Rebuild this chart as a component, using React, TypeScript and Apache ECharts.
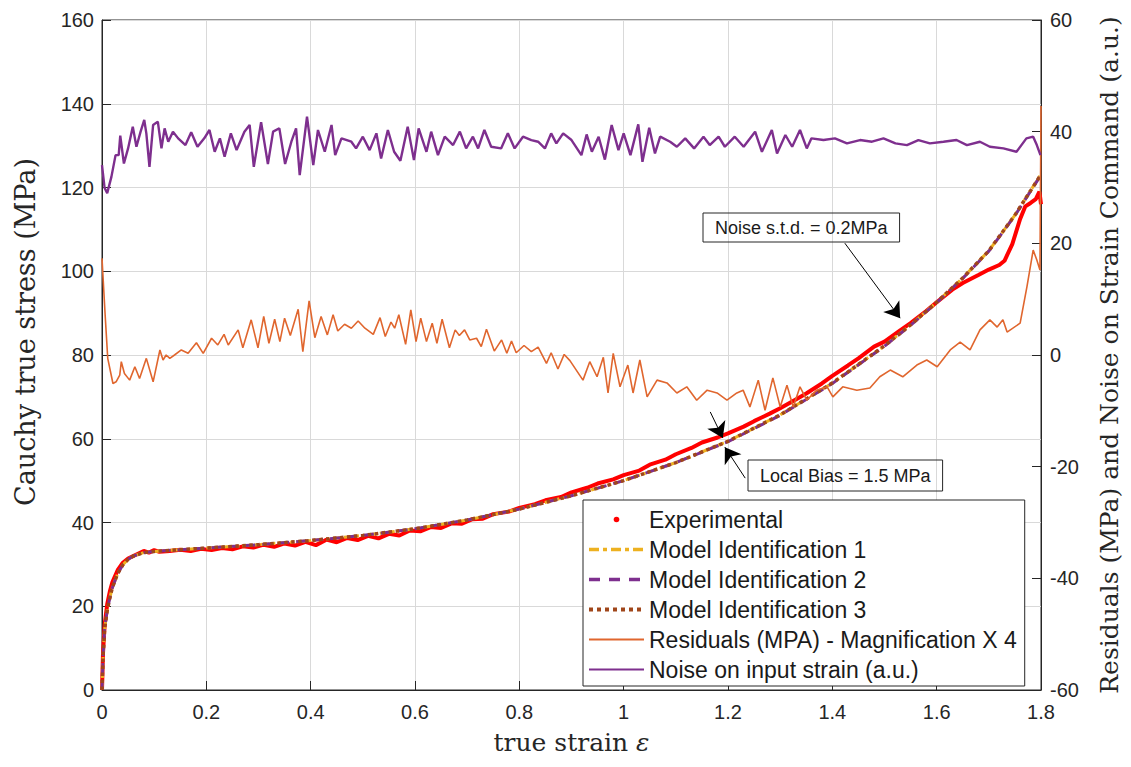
import React, { useEffect, useRef } from "react";
import * as echarts from "echarts";

// ---------- data ----------
const xTicks = [0, 0.2, 0.4, 0.6, 0.8, 1, 1.2, 1.4, 1.6, 1.8];

const modelStrain = [0, 0.002, 0.005, 0.01, 0.015, 0.02, 0.03, 0.04, 0.05, 0.06, 0.08, 0.1, 0.15, 0.2, 0.3, 0.4, 0.5, 0.6, 0.7, 0.8, 0.9, 1.0, 1.1, 1.2, 1.3, 1.4, 1.5, 1.55, 1.6, 1.65, 1.7, 1.75, 1.8];
const model1Stress = [0, 8, 14.5, 19, 22, 24.5, 27.8, 29.9, 31.2, 32, 32.8, 33.1, 33.5, 33.9, 34.7, 35.7, 36.9, 38.5, 40.6, 43.2, 46.4, 50, 54.3, 59.4, 65.7, 73.3, 82.2, 87.2, 92.6, 98.4, 104.9, 113.4, 123.2];
const model2Stress = [0, 8, 14.5, 19, 22, 24.5, 27.8, 29.9, 31.2, 32, 32.8, 33.1, 33.5, 33.9, 34.7, 35.7, 36.9, 38.5, 40.6, 43.2, 46.4, 50, 54.3, 59.3, 65.6, 73.2, 82.1, 87.1, 92.5, 98.3, 104.8, 113.3, 123];
const model3Stress = [0, 8, 14.5, 19, 22, 24.5, 27.8, 29.9, 31.2, 32, 32.8, 33.1, 33.5, 33.9, 34.7, 35.7, 36.9, 38.5, 40.6, 43.2, 46.4, 50, 54.3, 59.4, 65.7, 73.3, 82.2, 87.2, 92.6, 98.4, 104.9, 113.4, 123.1];

const expStrain = [0, 0.002, 0.005, 0.01, 0.015, 0.02, 0.03, 0.04, 0.05, 0.06, 0.07, 0.08, 0.09, 0.1, 0.11, 0.13, 0.15, 0.17, 0.19, 0.21, 0.23, 0.25, 0.27, 0.29, 0.31, 0.33, 0.35, 0.37, 0.39, 0.41, 0.43, 0.45, 0.47, 0.49, 0.51, 0.53, 0.55, 0.57, 0.59, 0.61, 0.63, 0.65, 0.67, 0.69, 0.71, 0.73, 0.75, 0.78, 0.8, 0.83, 0.85, 0.88, 0.9, 0.93, 0.95, 0.98, 1.0, 1.03, 1.05, 1.08, 1.1, 1.13, 1.15, 1.18, 1.2, 1.23, 1.25, 1.28, 1.3, 1.33, 1.35, 1.38, 1.4, 1.43, 1.45, 1.48, 1.5, 1.53, 1.55, 1.58, 1.6, 1.63, 1.65, 1.68, 1.7, 1.72, 1.73, 1.745, 1.76, 1.77, 1.78, 1.79, 1.797, 1.8];
const expStress = [0, 9, 15.5, 20.5, 23.5, 25.8, 28.6, 30.4, 31.4, 32, 32.6, 33.2, 32.8, 33.4, 33, 33.2, 33.5, 33.2, 33.7, 33.4, 33.9, 33.6, 34.3, 34, 34.7, 34.2, 35, 34.5, 35.4, 34.6, 35.9, 35.3, 36.3, 35.8, 36.8, 36.2, 37.3, 36.9, 38.1, 37.9, 38.9, 38.7, 39.8, 39.7, 40.8, 40.9, 42, 42.6, 43.5, 44.4, 45.3, 46.1, 47.2, 48.3, 49.3, 50.3, 51.3, 52.4, 53.8, 55, 56.3, 57.8, 59.1, 60.3, 61.3, 62.9, 64.2, 66, 67.3, 69.4, 70.8, 73.2, 75, 77.5, 79.2, 82, 83.2, 85.9, 87.6, 90.5, 92.6, 95.6, 97.2, 99.1, 100.4, 101.5, 102.5, 106.5, 112.5, 115.5, 116.3, 117.2, 119, 116];

const residualStrain = [0, 0.006, 0.011, 0.021, 0.027, 0.034, 0.037, 0.043, 0.053, 0.063, 0.072, 0.085, 0.098, 0.111, 0.117, 0.123, 0.13, 0.139, 0.152, 0.165, 0.181, 0.194, 0.21, 0.222, 0.234, 0.242, 0.261, 0.27, 0.286, 0.299, 0.31, 0.32, 0.331, 0.341, 0.35, 0.361, 0.376, 0.385, 0.397, 0.408, 0.42, 0.432, 0.443, 0.452, 0.465, 0.478, 0.491, 0.504, 0.52, 0.533, 0.543, 0.554, 0.561, 0.569, 0.582, 0.592, 0.602, 0.611, 0.622, 0.633, 0.642, 0.652, 0.666, 0.677, 0.685, 0.695, 0.705, 0.718, 0.727, 0.737, 0.752, 0.766, 0.776, 0.785, 0.794, 0.809, 0.823, 0.836, 0.852, 0.861, 0.874, 0.886, 0.897, 0.922, 0.935, 0.949, 0.961, 0.97, 0.98, 0.993, 1.008, 1.018, 1.031, 1.045, 1.064, 1.083, 1.102, 1.121, 1.14, 1.16, 1.179, 1.198, 1.217, 1.229, 1.242, 1.258, 1.271, 1.286, 1.3, 1.313, 1.325, 1.338, 1.351, 1.37, 1.39, 1.401, 1.42, 1.447, 1.472, 1.491, 1.511, 1.535, 1.562, 1.581, 1.601, 1.626, 1.645, 1.664, 1.683, 1.702, 1.716, 1.727, 1.735, 1.76, 1.773, 1.785, 1.792, 1.798, 1.8];
const residualValue = [17.3, 7.2, -0.6, -5.1, -4.8, -3.6, -1.2, -3.3, -4.5, -2.1, -4.2, -0.6, -4.8, 0.9, -0.9, 0, -0.6, 0, 0.9, 0.3, 2.2, 0.3, 3, 1.8, 3.7, 1.8, 4.5, 1.3, 6.3, 1.3, 6.9, 2.1, 6.4, 2.4, 6.6, 3.5, 8.2, 0.6, 9.7, 3.1, 6.9, 3.6, 7.2, 4.3, 5.5, 4.8, 6.1, 4.8, 3.7, 6.7, 3.3, 5.9, 4.8, 7.2, 1.9, 8.1, 2.4, 6.6, 2.4, 5.7, 2.1, 6.4, 1.3, 4.5, 3.5, 4.5, 2.7, 3, 1.5, 4.6, 0.7, 2.7, 0.3, 2.5, 0.4, 1.7, 0.6, 1.4, -1.5, 0.4, -2.5, 0.1, -1, -4.5, -1.2, -3.9, -0.4, -6.8, 0.3, -5.7, -1.8, -6.8, -0.9, -7.5, -4.5, -5, -6.8, -5.7, -8.1, -6.3, -6.8, -8.1, -6.8, -6.3, -9.3, -4.5, -9.9, -4.1, -9.3, -5.4, -9.3, -5.7, -8.1, -6.3, -5.7, -7.5, -5.7, -6.3, -5.9, -3.9, -2.7, -3.9, -1.8, -0.9, -2.1, 0.9, 2.3, 0.9, 4.5, 6.3, 5, 6.3, 4.1, 5.7, 12.2, 18.8, 17, 15.2, 44.6];

const noiseStrain = [0, 0.005, 0.01, 0.018, 0.026, 0.032, 0.035, 0.042, 0.05, 0.059, 0.066, 0.074, 0.081, 0.085, 0.091, 0.098, 0.107, 0.114, 0.12, 0.127, 0.136, 0.146, 0.16, 0.171, 0.183, 0.196, 0.206, 0.216, 0.226, 0.235, 0.247, 0.258, 0.273, 0.283, 0.291, 0.305, 0.318, 0.328, 0.34, 0.351, 0.363, 0.372, 0.379, 0.393, 0.405, 0.414, 0.427, 0.44, 0.447, 0.459, 0.478, 0.487, 0.5, 0.513, 0.526, 0.535, 0.548, 0.56, 0.572, 0.586, 0.598, 0.607, 0.622, 0.631, 0.644, 0.657, 0.673, 0.686, 0.698, 0.711, 0.721, 0.733, 0.746, 0.765, 0.778, 0.791, 0.807, 0.823, 0.836, 0.849, 0.861, 0.871, 0.884, 0.9, 0.919, 0.929, 0.939, 0.952, 0.964, 0.977, 0.99, 1.0, 1.013, 1.028, 1.036, 1.049, 1.06, 1.07, 1.089, 1.102, 1.118, 1.135, 1.153, 1.165, 1.182, 1.194, 1.213, 1.23, 1.252, 1.265, 1.284, 1.294, 1.31, 1.323, 1.338, 1.351, 1.36, 1.383, 1.405, 1.428, 1.453, 1.476, 1.498, 1.521, 1.543, 1.565, 1.587, 1.613, 1.638, 1.658, 1.683, 1.702, 1.728, 1.753, 1.772, 1.785, 1.792, 1.799];
const noiseValue = [34, 29.9, 29, 31.9, 35.8, 35.8, 39.3, 34.3, 37, 40.9, 37.3, 40, 42.1, 39.7, 33.7, 41.2, 41.8, 37, 40.6, 38.2, 40, 38.8, 37.6, 39.9, 37.3, 38.8, 40.3, 36.4, 38.8, 35.5, 39.7, 36.7, 40, 41.2, 33.7, 41.7, 34.2, 40, 40.6, 34.2, 38.2, 40.6, 32.2, 42.7, 34, 40.3, 36.4, 41.2, 35.8, 38.8, 38.2, 37, 39.1, 36.7, 39.7, 35.2, 40.3, 36.4, 34.8, 40.9, 34.9, 40.6, 36.4, 40, 35.8, 39.1, 37.6, 40, 37, 39.1, 37, 40.3, 37.3, 37, 39.7, 37, 39.1, 38.5, 38.2, 37, 39.7, 37.9, 39.7, 38.5, 35.8, 39.5, 36.4, 39.1, 35, 41.2, 36.7, 39.7, 35.8, 41.3, 34.6, 40.7, 36.1, 39.1, 38.2, 37.3, 38.8, 37, 39.1, 37.6, 39.1, 37.3, 39.1, 37.3, 40, 36.4, 40.3, 36.1, 39.4, 37.3, 40.3, 37, 38.8, 38.5, 38.8, 37.9, 38.5, 38.2, 38.8, 37.9, 37.6, 38.5, 37.9, 38.2, 38.5, 37.6, 38.2, 37.3, 37, 36.4, 38.8, 39.1, 37.6, 35.8];

const seriesNames = [
  "Experimental",
  "Model Identification 1",
  "Model Identification 2",
  "Model Identification 3",
  "Residuals (MPA) - Magnification X 4",
  "Noise on input strain (a.u.)",
];

const zip = (xs: number[], ys: number[]) => xs.map((x, i) => [x, ys[i]]);

const SANS = "'Liberation Sans', Arial, Helvetica, sans-serif";
const SERIF = "'DejaVu Serif', 'Liberation Serif', serif";
const AX = "#262626";

export default function App() {
  const ref = useRef<HTMLDivElement>(null);
  useEffect(() => {
    if (!ref.current) return;
    const chart = echarts.init(ref.current, undefined, { renderer: "svg" });
    const lineItem = (name: string, extra: any = {}) => ({ name, itemStyle: { opacity: 0 }, ...extra });
    const option: any = {
      animation: false,
      backgroundColor: "#ffffff",
      grid: {
        left: 102,
        right: 90,
        top: 20,
        bottom: 77,
        show: true,
        borderColor: AX,
        borderWidth: 1,
        backgroundColor: "transparent",
      },
      legend: {
        orient: "vertical",
        left: 583,
        top: 500,
        padding: [8, 8, 5, 4],
        itemGap: 7,
        itemWidth: 55,
        itemHeight: 14,
        backgroundColor: "#ffffff",
        borderColor: AX,
        borderWidth: 1,
        borderRadius: 0,
        textStyle: { fontFamily: SANS, fontSize: 23, lineHeight: 22, color: "#1a1a1a" },
        data: [
          {
            name: seriesNames[0],
            icon: "path://M0,0M20,20M6,10A4,4,0,1,0,14,10A4,4,0,1,0,6,10Z",
            itemStyle: { color: "#ff0000" },
          },
          lineItem(seriesNames[1], { lineStyle: { width: 3.5, type: [10, 4, 4, 4] } }),
          lineItem(seriesNames[2], { lineStyle: { width: 3.5, type: [11, 9] } }),
          lineItem(seriesNames[3], { lineStyle: { width: 4, type: [4, 4] } }),
          lineItem(seriesNames[4]),
          lineItem(seriesNames[5]),
        ],
      },
      xAxis: {
        type: "value",
        min: 0,
        max: 1.8,
        interval: 0.2,
        name: "true strain {e|ε}",
        nameLocation: "middle",
        nameGap: 40,
        nameTextStyle: {
          fontFamily: SERIF,
          fontSize: 25,
          color: AX,
          rich: { e: { fontFamily: SERIF, fontSize: 25, fontStyle: "italic", color: AX } },
        },
        axisLine: { show: true, lineStyle: { color: AX, width: 1 } },
        axisTick: { show: true, inside: true, length: 9, lineStyle: { color: AX } },
        axisLabel: {
          margin: 12,
          fontFamily: SANS,
          fontSize: 20,
          color: AX,
          formatter: (v: number) => String(Math.round(v * 10) / 10),
        },
        splitLine: { show: true, lineStyle: { color: "#d9d9d9", width: 1 } },
      },
      yAxis: [
        {
          type: "value",
          position: "left",
          min: 0,
          max: 160,
          interval: 20,
          name: "Cauchy true stress (MPa)",
          nameLocation: "middle",
          nameRotate: 90,
          nameGap: 63,
          nameTextStyle: { fontFamily: SERIF, fontSize: 27, color: AX, padding: [0, 0, 0, 46] },
          axisLine: { show: true, lineStyle: { color: AX, width: 1 } },
          axisTick: { show: true, inside: true, length: 9, lineStyle: { color: AX } },
          axisLabel: { margin: 8, fontFamily: SANS, fontSize: 20, color: AX },
          splitLine: { show: true, lineStyle: { color: "#d9d9d9", width: 1 } },
        },
        {
          type: "value",
          position: "right",
          min: -60,
          max: 60,
          interval: 20,
          name: "Residuals (MPa) and Noise on Strain Command (a.u.)",
          nameLocation: "middle",
          nameRotate: 90,
          nameGap: 56,
          nameTextStyle: { fontFamily: SERIF, fontSize: 25, color: AX },
          axisLine: { show: true, lineStyle: { color: AX, width: 1 } },
          axisTick: { show: true, inside: true, length: 9, lineStyle: { color: AX } },
          axisLabel: { margin: 9, fontFamily: SANS, fontSize: 20, color: AX },
          splitLine: { show: false },
        },
      ],
      series: [
        {
          name: seriesNames[0],
          type: "line",
          yAxisIndex: 0,
          data: zip(expStrain, expStress),
          symbol: "none",
          color: "#ff0000",
          lineStyle: { color: "#ff0000", width: 4 },
          z: 2,
          markLine: {
            silent: true,
            symbol: ["none", "arrow"],
            symbolSize: 15,
            label: { show: false },
            emphasis: { disabled: true },
            lineStyle: { color: "#000000", width: 1, type: "solid" },
            data: [
              [{ coord: [1.424, 106.7] }, { coord: [1.53, 88.8] }],
              [{ coord: [1.233, 50.6] }, { coord: [1.194, 58.0] }],
              [{ coord: [1.166, 66.4] }, { coord: [1.19, 60.2] }],
            ],
          },
        },
        {
          name: seriesNames[1],
          type: "line",
          yAxisIndex: 0,
          data: zip(modelStrain, model1Stress),
          symbol: "none",
          color: "#EDB120",
          lineStyle: { color: "#EDB120", width: 3, type: [9, 3, 3, 3] },
          z: 3,
        },
        {
          name: seriesNames[2],
          type: "line",
          yAxisIndex: 0,
          data: zip(modelStrain, model2Stress),
          symbol: "none",
          color: "#7E2F8E",
          lineStyle: { color: "#7E2F8E", width: 3, type: [10, 7] },
          z: 3,
        },
        {
          name: seriesNames[3],
          type: "line",
          yAxisIndex: 0,
          data: zip(modelStrain, model3Stress),
          symbol: "none",
          color: "#A0461A",
          lineStyle: { color: "#A0461A", width: 3.5, type: [3.5, 3.5] },
          z: 3,
        },
        {
          name: seriesNames[4],
          type: "line",
          yAxisIndex: 1,
          data: zip(residualStrain, residualValue),
          symbol: "none",
          color: "#E0662E",
          lineStyle: { color: "#E0662E", width: 1.6 },
          z: 3,
        },
        {
          name: seriesNames[5],
          type: "line",
          yAxisIndex: 1,
          data: zip(noiseStrain, noiseValue),
          symbol: "none",
          color: "#7E2F8E",
          lineStyle: { color: "#7E2F8E", width: 2.4 },
          z: 3,
        },
      ],
      graphic: [
        {
          type: "text",
          x: 703,
          y: 213,
          z: 10,
          style: {
            text: "Noise s.t.d. = 0.2MPa",
            font: "18px 'Liberation Sans', Arial, sans-serif",
            fill: "#1a1a1a",
            borderColor: AX,
            borderWidth: 1,
            padding: [6, 12, 5, 12],
          },
        },
        {
          type: "text",
          x: 748,
          y: 460,
          z: 10,
          style: {
            text: "Local Bias = 1.5 MPa",
            font: "18px 'Liberation Sans', Arial, sans-serif",
            fill: "#1a1a1a",
            borderColor: AX,
            borderWidth: 1,
            padding: [7, 12, 6, 12],
          },
        },
      ],
    };
    chart.setOption(option);
    return () => chart.dispose();
  }, []);
  return (
    <div
      ref={ref}
      style={{ position: "fixed", left: 0, top: 0, width: 1131, height: 767, background: "#fff" }}
    />
  );
}
